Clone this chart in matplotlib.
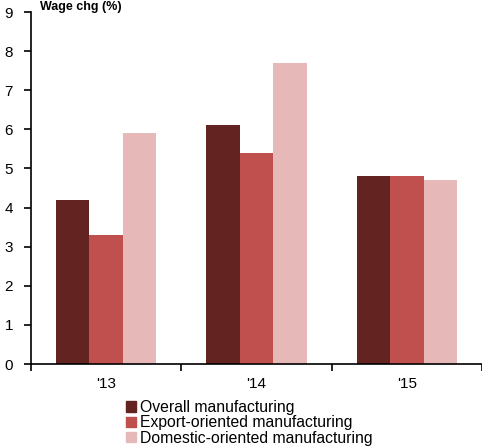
import matplotlib.pyplot as plt
import numpy as np
from matplotlib.patches import Patch

plt.rcParams['font.family'] = ['Liberation Sans', 'DejaVu Sans']

years = ["'13", "'14", "'15"]
overall = [4.2, 6.1, 4.8]
export = [3.3, 5.4, 4.8]
domestic = [5.9, 7.7, 4.7]
names = ['Overall manufacturing', 'Export-oriented manufacturing',
         'Domestic-oriented manufacturing']
colors = ['#622321', '#C0504D', '#E6B9B8']

fig = plt.figure(figsize=(4.82, 4.48), dpi=100)
ax = fig.add_axes([31/482, 1-364/448, 451/482, 352/448])

x = np.arange(len(years))
w = 0.222
for i, vals in enumerate([overall, export, domestic]):
    ax.bar(x + (i-1)*w, vals, w, color=colors[i], edgecolor='none')

ax.set_xlim(-0.5, 2.5)
ax.set_ylim(0, 9)
ax.set_yticks(range(10))
ax.set_xticks(x)
ax.set_xticklabels(years)
ax.set_xticks([-0.5, 0.5, 1.5, 2.5], minor=True)
ax.tick_params(axis='x', which='major', length=0, labelsize=11, pad=9)
ax.tick_params(axis='x', which='minor', length=5, width=1.2, direction='out')
ax.tick_params(axis='y', length=5, width=1.2, direction='out', labelsize=11, pad=8)
for s in ['top', 'right']:
    ax.spines[s].set_visible(False)
for s in ['left', 'bottom']:
    ax.spines[s].set_linewidth(1.2)

fig.text(40/482, 1-1/448, 'Wage chg (%)', fontsize=9, fontweight='bold',
         va='top', ha='left')

handles = [Patch(color=c) for c in colors]
fig.legend(handles, names, loc='upper left', bbox_to_anchor=(126/482, 1-400/448),
           frameon=False, fontsize=11.3, handlelength=0.65, handleheight=0.65,
           handletextpad=0.25, labelspacing=0.02, borderpad=0, borderaxespad=0)

fig.savefig('out.png', dpi=100)
